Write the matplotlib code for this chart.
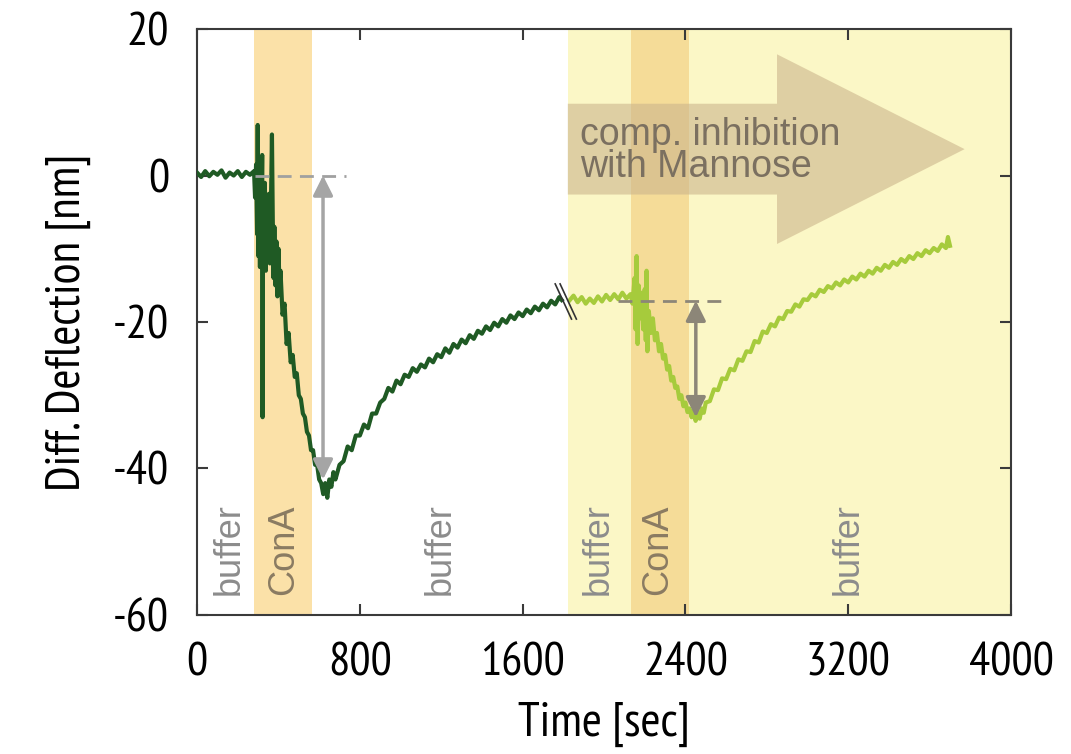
import matplotlib
matplotlib.use("Agg")
import matplotlib.pyplot as plt
from matplotlib.patches import FancyArrow

plt.rcParams["axes.unicode_minus"] = False

# dark green trace (first run, before the axis break)
t_run1 = [0, 20, 40, 60, 80, 100, 120, 140, 160, 180, 200, 220, 240, 260, 280,
          285, 290, 295, 298, 301, 305, 309, 313, 317, 320, 322, 324, 328, 333, 338,
          343, 348, 353, 358, 363, 368, 372, 376, 380, 385, 390, 395, 400, 405, 410,
          420, 430, 440, 450, 460, 470, 480, 490, 500, 510, 520, 530, 540, 550, 560,
          570, 580, 590, 600, 610, 620, 630, 640, 650, 660, 670, 680, 700, 720, 740,
          760, 780, 800, 820, 840, 860, 880, 900, 920, 940, 960, 980, 1000, 1020, 1040,
          1060, 1080, 1100, 1120, 1140, 1160, 1180, 1200, 1220, 1240, 1260, 1280, 1300,
          1320, 1340, 1360, 1380, 1400, 1420, 1440, 1460, 1480, 1500, 1520, 1540, 1560,
          1580, 1600, 1620, 1640, 1660, 1680, 1700, 1720, 1740, 1760, 1780, 1792]
d_run1 = [0.4, -0.2, 0.6, -0.1, 0.5, 0.1, 0.7, -0.3, 0.4, 0.0, 0.6, -0.2, 0.5, 0.1, 0.6,
          -3.0, 1.5, -8.0, 6.9, -11.0, -2.0, -12.5, 0.5, -6.0, 2.8, -33.0, -4.0, -11.0, -1.0, -13.0,
          -3.0, -10.0, -2.5, -12.0, -4.0, 5.6, -6.0, -14.0, -7.0, -15.0, -9.0, -16.5, -10.0, -15.0, -13.0,
          -19.0, -17.5, -23.0, -21.5, -25.5, -24.5, -27.5, -27.0, -30.0, -30.5, -32.5, -33.0, -35.0, -35.5, -37.5,
          -37.5, -39.5, -39.5, -41.5, -42.0, -43.5, -42.0, -44.0, -41.5, -42.5, -40.5, -41.5, -39.5, -39.0, -37.0,
          -37.5, -35.5, -35.5, -34.0, -34.5, -32.5, -32.5, -31.0, -30.5, -29.0, -29.5, -28.0, -28.5, -27.2, -27.5,
          -26.3, -26.8, -25.8, -26.2, -25.0, -25.5, -24.4, -24.8, -23.6, -24.2, -23.0, -23.5, -22.4,
          -22.9, -21.8, -22.3, -21.2, -21.6, -20.6, -21.1, -20.1, -20.6, -19.6, -20.1, -19.1, -19.6,
          -18.7, -19.2, -18.3, -18.8, -17.9, -18.4, -17.5, -18.0, -17.1, -17.6, -16.6, -17.0]

# light green trace (with mannose)
t_run2 = [1832, 1850, 1870, 1890, 1910, 1930, 1950, 1970, 1990, 2010, 2030, 2050, 2070, 2090,
          2110, 2130, 2140, 2150, 2155, 2160, 2165, 2170, 2178, 2185, 2192, 2200, 2205, 2209,
          2213, 2220, 2230, 2240, 2250, 2260, 2270, 2280, 2290, 2300, 2310, 2320, 2330, 2340,
          2350, 2360, 2370, 2380, 2390, 2400, 2410, 2420, 2430, 2440, 2450, 2460, 2470, 2480,
          2490, 2500, 2520, 2540, 2560, 2580, 2600, 2620, 2640, 2660, 2680, 2700, 2720, 2740,
          2760, 2780, 2800, 2820, 2840, 2860, 2880, 2900, 2920, 2940, 2960, 2980, 3000, 3020,
          3040, 3060, 3080, 3100, 3120, 3140, 3160, 3180, 3200, 3220, 3240, 3260, 3280, 3300,
          3320, 3340, 3360, 3380, 3400, 3420, 3440, 3460, 3480, 3500, 3520, 3540, 3560, 3580,
          3600, 3620, 3640, 3660, 3680, 3690, 3700]
d_run2 = [-17.0, -16.4, -17.3, -16.6, -17.5, -16.8, -17.4, -16.5, -17.2, -16.3, -17.0, -16.2, -16.9, -16.0,
          -16.8, -16.2, -17.5, -14.0, -21.0, -11.0, -23.0, -15.0, -19.5, -16.0, -21.0, -15.5, -22.5, -13.0,
          -24.0, -18.5, -21.5, -19.5, -22.5, -21.5, -24.0, -23.0, -25.0, -24.5, -26.5, -26.0, -28.0, -27.5,
          -29.0, -28.8, -30.5, -30.0, -31.5, -31.0, -32.3, -31.8, -33.0, -32.2, -33.5, -32.3, -33.2, -31.8,
          -32.4, -31.0, -30.8, -29.2, -29.3, -27.7, -27.8, -26.4, -26.6, -25.1, -25.3, -24.0, -24.1, -22.6,
          -22.8, -21.3, -21.5, -20.3, -20.6, -19.4, -19.6, -18.5, -18.6, -17.6, -17.9, -16.9, -17.0, -16.2,
          -16.5, -15.6, -15.9, -15.1, -15.4, -14.6, -15.0, -14.2, -14.6, -13.8, -14.2, -13.4, -13.8, -13.0,
          -13.4, -12.6, -13.0, -12.2, -12.6, -11.8, -12.2, -11.4, -11.8, -11.0, -11.4, -10.6, -11.0, -10.2,
          -10.6, -9.9, -10.3, -9.4, -9.9, -8.4, -9.6]

# solution phases (start, end) in sec
cona1 = (280, 565)
mannose = (1822, 4000)
cona2 = (2134, 2417)
phase_labels = ["buffer", "ConA", "buffer", "buffer", "ConA", "buffer"]
phase_pos = [157, 427, 1194, 1970, 2265, 3198]

# amplitudes (time, baseline, minimum) for the two runs
amp1 = (619, 0.0, -41.5)
amp2 = (2451, -17.1, -33.0)

xticks = [0, 800, 1600, 2400, 3200, 4000]
yticks = [20, 0, -20, -40, -60]

annfont = ["Liberation Sans", "DejaVu Sans"]
axfont = dict(family=["PT Sans Narrow", "DejaVu Sans"], weight="normal")

fig = plt.figure(figsize=(10.71, 7.54), dpi=100)
ax = fig.add_axes([0.184, 0.1844, 0.760, 0.7771])

ax.axvspan(*cona1, color="#fbe1a8", lw=0, zorder=0)
ax.axvspan(*mannose, color="#fbf7c6", lw=0, zorder=0)
ax.axvspan(*cona2, color="#f5dc98", lw=0, zorder=0)

# big mannose arrow
arr = FancyArrow(1822, 3.6, 3772 - 1822, 0, width=12.4, head_width=25.9, head_length=922,
                 length_includes_head=True, facecolor=(0.80, 0.71, 0.55), alpha=0.6, lw=0, zorder=1)
ax.add_patch(arr)
ax.text(1880, 3.3, "comp. inhibition\nwith Mannose", family=annfont, fontsize=27,
        color="#7b7060", ha="left", va="center", linespacing=0.85, zorder=2)

ax.plot(t_run1, d_run1, color="#1f5a24", lw=3, zorder=3)
ax.plot(t_run2, d_run2, color="#a6cb3c", lw=3, zorder=3)

# axis break marks
bt, by = 1812, -17.2
for off in (-12, 12):
    ax.plot([bt + off - 40, bt + off + 40], [by + 2.4, by - 2.4], color="#333333", lw=1.2, zorder=4)

# dashed baselines and amplitude arrows
ax.plot([285, 730], [amp1[1], amp1[1]], color="#a0a0a0", lw=2, dashes=(5, 3), zorder=4)
ax.plot([2068, 2594], [amp2[1], amp2[1]], color="#8c8678", lw=2, dashes=(5, 3), zorder=4)
ax.annotate("", xy=(amp1[0], amp1[2]), xytext=(amp1[0], amp1[1]),
            arrowprops=dict(arrowstyle="<|-|>", color="#a5a5a5", lw=2.5, mutation_scale=30,
                            shrinkA=0, shrinkB=0), zorder=5)
ax.annotate("", xy=(amp2[0], amp2[2]), xytext=(amp2[0], amp2[1]),
            arrowprops=dict(arrowstyle="<|-|>", color="#8c8678", lw=2.5, mutation_scale=30,
                            shrinkA=0, shrinkB=0), zorder=5)

for lab, pos in zip(phase_labels, phase_pos):
    col = "#8a7b62" if lab == "ConA" else "#8c8c8c"
    ax.text(pos, -57.3, lab, rotation=90, family=annfont, fontsize=26, color=col,
            ha="center", va="bottom", zorder=2)

ax.set_xlim(0, 4000)
ax.set_ylim(-60, 20)
ax.set_xticks(xticks)
ax.set_yticks(yticks)
ax.tick_params(direction="in", length=8, width=1.5, color="#3a3a3a", top=True, right=True,
               labelsize=34, pad=20)
for lab in ax.get_xticklabels() + ax.get_yticklabels():
    lab.set(**axfont)
for sp in ax.spines.values():
    sp.set_color("#3a3a3a")
    sp.set_linewidth(1.5)

ax.set_xlabel("Time [sec]", fontsize=35, labelpad=12, **axfont)
ax.set_ylabel("Diff. Deflection [nm]", fontsize=35, labelpad=16, **axfont)

fig.savefig("out.png", dpi=100)
